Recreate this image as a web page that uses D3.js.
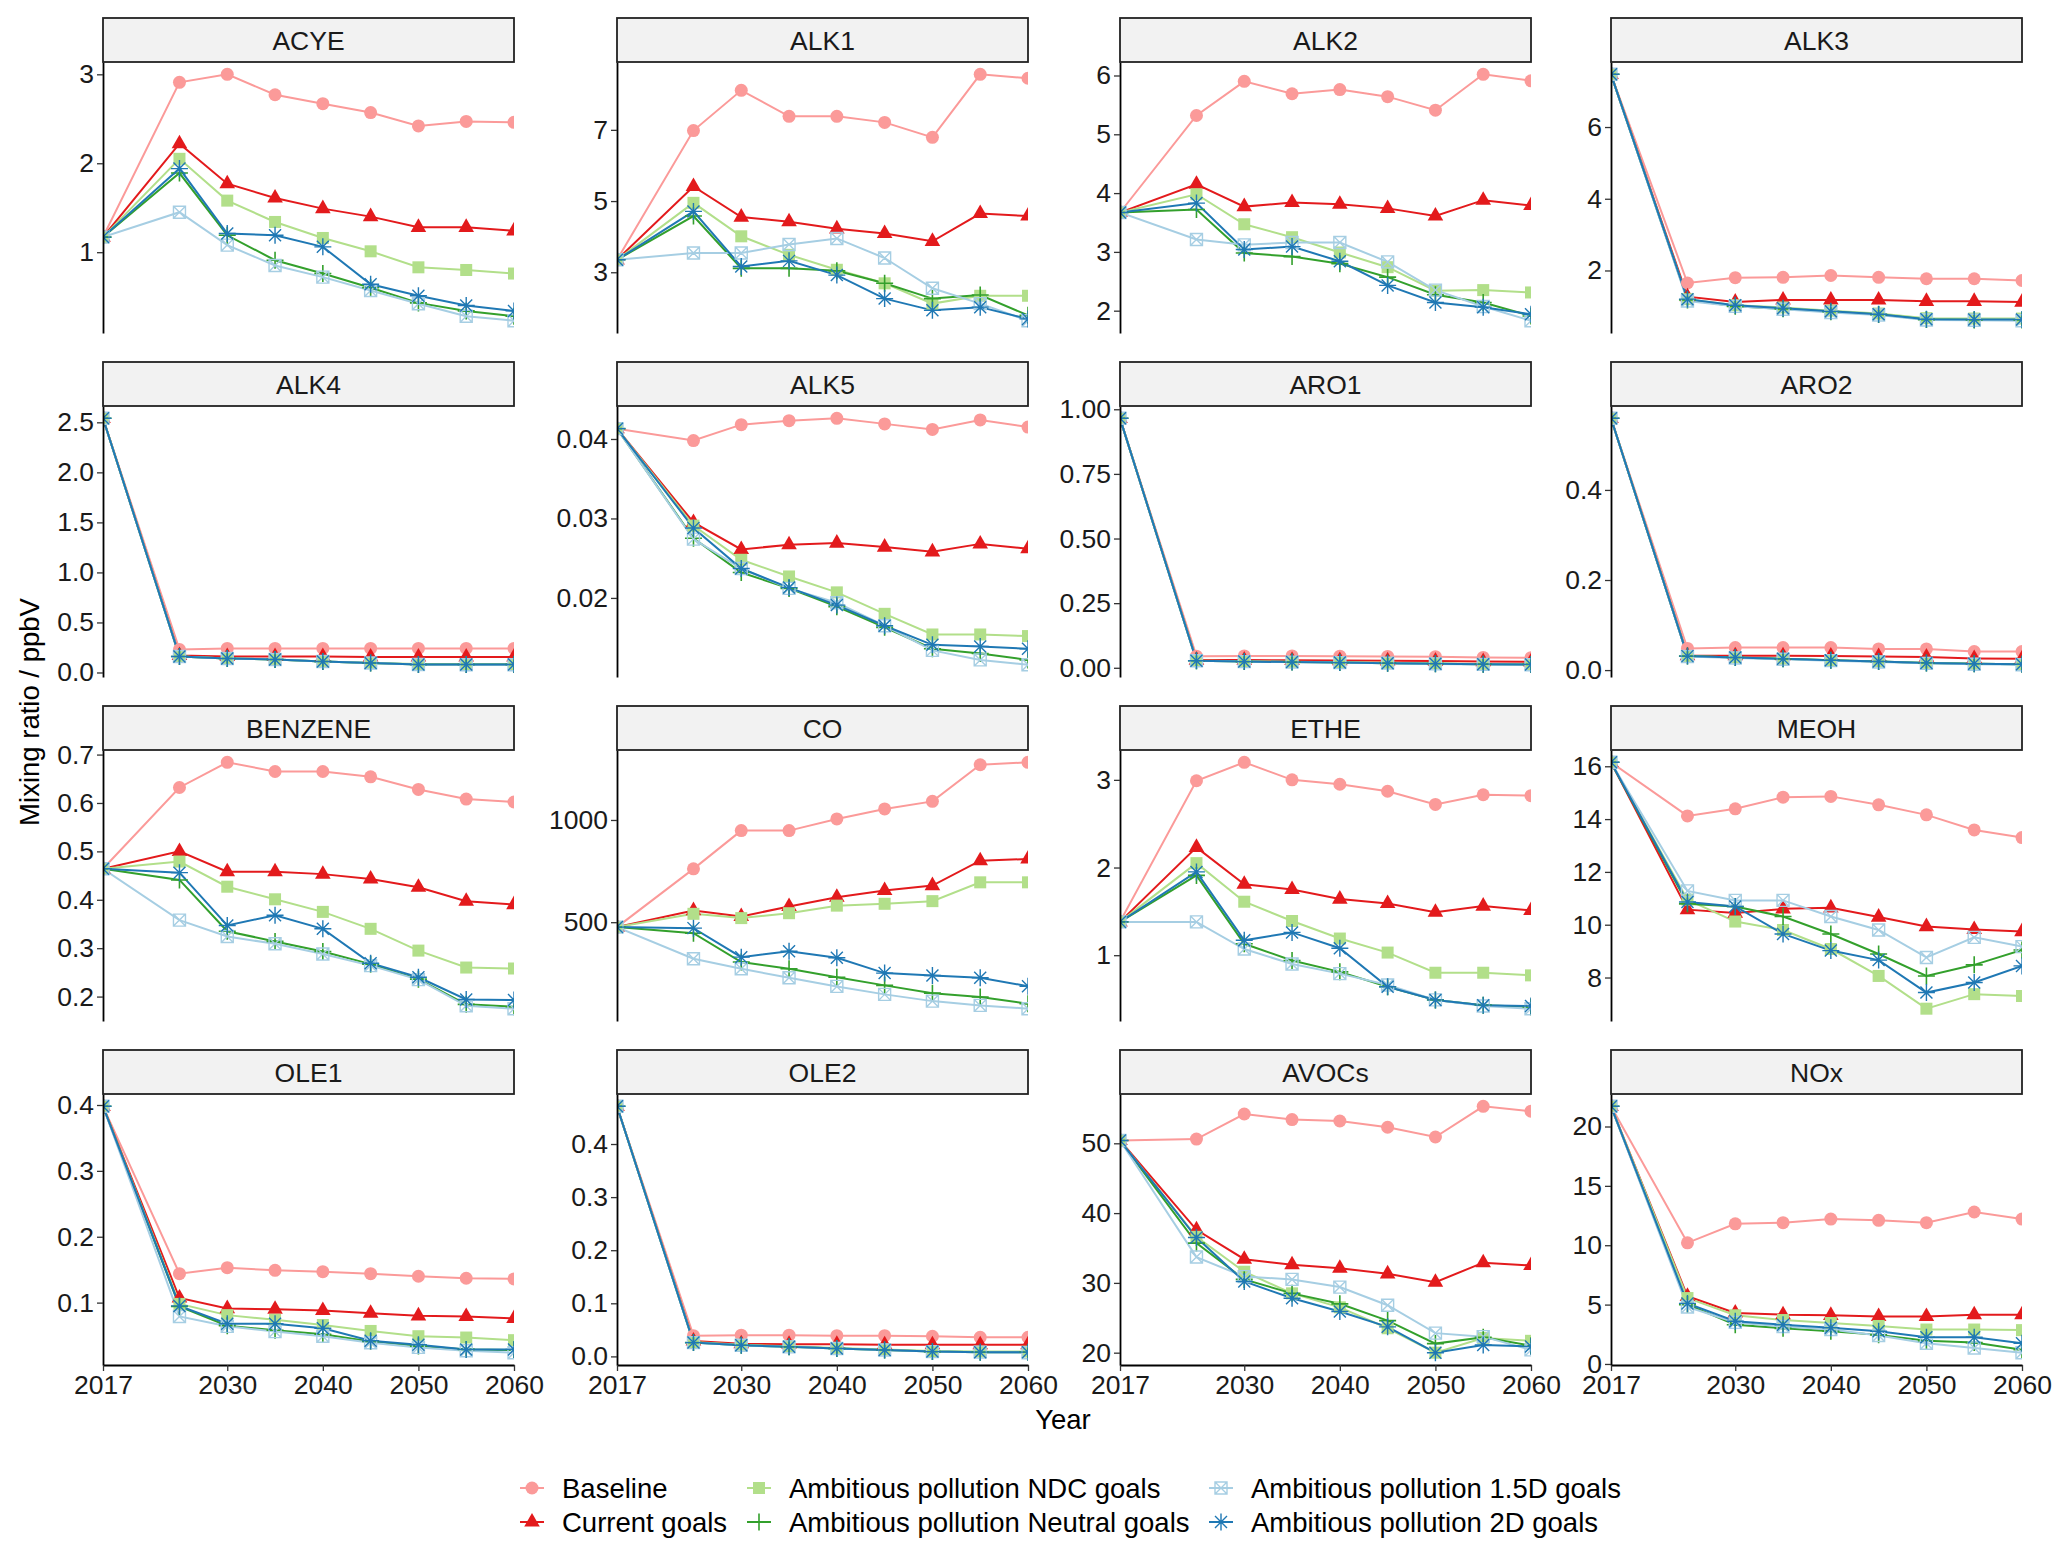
<!DOCTYPE html>
<html lang="en">
<head>
<meta charset="UTF-8">
<title>Mixing ratio by scenario</title>
<script src="https://cdn.jsdelivr.net/npm/d3@7"></script>
<style>
  body { margin: 0; background: #fff; }
  svg text { font-family: "Liberation Sans", Arial, sans-serif; }
</style>
</head>
<body>
<svg width="2067" height="1554"></svg>
<script>
const years = [2017, 2025, 2030, 2035, 2040, 2045, 2050, 2055, 2060];
const xTicks = [2017, 2030, 2040, 2050, 2060];

const scenarios = ["Baseline", "Current goals", "Ambitious pollution NDC goals",
  "Ambitious pollution Neutral goals", "Ambitious pollution 1.5D goals", "Ambitious pollution 2D goals"];
const colors = ["#FB9A99", "#E31A1C", "#B2DF8A", "#33A02C", "#A6CEE3", "#1F78B4"];
const shapes = ["circle", "triangle", "square", "plus", "squarecross", "asterisk"];

const species = ["ACYE", "ALK1", "ALK2", "ALK3", "ALK4", "ALK5", "ARO1", "ARO2",
  "BENZENE", "CO", "ETHE", "MEOH", "OLE1", "OLE2", "AVOCs", "NOx"];

// rows follow the order of `scenarios`
const ACYE = [
  [1.17, 2.91, 3.00, 2.77, 2.67, 2.57, 2.42, 2.47, 2.46],
  [1.17, 2.22, 1.77, 1.61, 1.49, 1.40, 1.28, 1.28, 1.24],
  [1.17, 2.05, 1.58, 1.34, 1.16, 1.01, 0.83, 0.80, 0.76],
  [1.17, 1.89, 1.19, 0.91, 0.76, 0.60, 0.43, 0.34, 0.28],
  [1.17, 1.45, 1.08, 0.85, 0.72, 0.57, 0.42, 0.28, 0.23],
  [1.17, 1.94, 1.21, 1.19, 1.06, 0.64, 0.51, 0.40, 0.34]
];
const ALK1 = [
  [3.35, 6.98, 8.11, 7.38, 7.38, 7.21, 6.79, 8.56, 8.45],
  [3.35, 5.41, 4.55, 4.42, 4.22, 4.09, 3.87, 4.65, 4.58],
  [3.35, 4.95, 4.01, 3.49, 3.07, 2.69, 2.12, 2.34, 2.34],
  [3.35, 4.58, 3.11, 3.11, 3.04, 2.69, 2.26, 2.36, 1.79],
  [3.35, 3.54, 3.54, 3.78, 3.95, 3.40, 2.55, 2.12, 1.64],
  [3.35, 4.71, 3.16, 3.32, 2.92, 2.26, 1.93, 2.02, 1.69]
];
const ALK2 = [
  [3.67, 5.32, 5.90, 5.69, 5.76, 5.64, 5.41, 6.02, 5.91],
  [3.67, 4.15, 3.77, 3.84, 3.81, 3.74, 3.61, 3.88, 3.79],
  [3.67, 3.98, 3.47, 3.25, 2.99, 2.74, 2.34, 2.35, 2.31],
  [3.67, 3.72, 2.98, 2.92, 2.80, 2.57, 2.27, 2.14, 1.91],
  [3.67, 3.21, 3.12, 3.16, 3.16, 2.83, 2.35, 2.07, 1.83],
  [3.67, 3.83, 3.04, 3.09, 2.84, 2.43, 2.14, 2.06, 1.94]
];
const ALK3 = [
  [7.47, 1.65, 1.80, 1.81, 1.86, 1.81, 1.77, 1.77, 1.72],
  [7.47, 1.27, 1.12, 1.18, 1.18, 1.18, 1.14, 1.14, 1.12],
  [7.47, 1.20, 1.03, 0.97, 0.88, 0.80, 0.67, 0.66, 0.66],
  [7.47, 1.18, 1.00, 0.93, 0.85, 0.77, 0.63, 0.62, 0.62],
  [7.47, 1.15, 1.00, 0.92, 0.83, 0.76, 0.62, 0.61, 0.60],
  [7.47, 1.20, 1.03, 0.95, 0.86, 0.78, 0.64, 0.63, 0.63]
];
const ALK4 = [
  [2.54, 0.23, 0.24, 0.24, 0.24, 0.24, 0.24, 0.24, 0.24],
  [2.54, 0.17, 0.16, 0.16, 0.16, 0.155, 0.155, 0.155, 0.155],
  [2.54, 0.16, 0.14, 0.13, 0.11, 0.095, 0.085, 0.085, 0.085],
  [2.54, 0.16, 0.14, 0.13, 0.11, 0.095, 0.08, 0.08, 0.08],
  [2.54, 0.16, 0.14, 0.13, 0.11, 0.095, 0.08, 0.078, 0.078],
  [2.54, 0.16, 0.14, 0.13, 0.11, 0.095, 0.08, 0.08, 0.08]
];
const ALK5 = [
  [0.0413, 0.0398, 0.0418, 0.0423, 0.0426, 0.0419, 0.0412, 0.0424, 0.0415],
  [0.0413, 0.0295, 0.0261, 0.0267, 0.0269, 0.0264, 0.0258, 0.0268, 0.0262],
  [0.0413, 0.0291, 0.0248, 0.0227, 0.0207, 0.0180, 0.0154, 0.0154, 0.0152],
  [0.0413, 0.0275, 0.0232, 0.0212, 0.0189, 0.0163, 0.0136, 0.0130, 0.0122],
  [0.0413, 0.0274, 0.0237, 0.0212, 0.0194, 0.0165, 0.0134, 0.0122, 0.0116],
  [0.0413, 0.0288, 0.0237, 0.0213, 0.0191, 0.0165, 0.0141, 0.0139, 0.0136]
];
const ARO1 = [
  [0.965, 0.045, 0.046, 0.046, 0.045, 0.044, 0.043, 0.040, 0.039],
  [0.965, 0.030, 0.030, 0.029, 0.028, 0.027, 0.026, 0.024, 0.023],
  [0.965, 0.028, 0.025, 0.023, 0.021, 0.019, 0.017, 0.015, 0.014],
  [0.965, 0.027, 0.024, 0.022, 0.020, 0.018, 0.016, 0.014, 0.013],
  [0.965, 0.027, 0.024, 0.022, 0.020, 0.018, 0.015, 0.013, 0.012],
  [0.965, 0.027, 0.024, 0.022, 0.020, 0.018, 0.016, 0.014, 0.013]
];
const ARO2 = [
  [0.559, 0.048, 0.050, 0.050, 0.050, 0.047, 0.047, 0.041, 0.041],
  [0.559, 0.032, 0.032, 0.032, 0.031, 0.030, 0.029, 0.026, 0.025],
  [0.559, 0.031, 0.028, 0.025, 0.022, 0.019, 0.016, 0.014, 0.013],
  [0.559, 0.031, 0.028, 0.025, 0.022, 0.019, 0.016, 0.014, 0.013],
  [0.559, 0.030, 0.027, 0.024, 0.021, 0.018, 0.015, 0.013, 0.012],
  [0.559, 0.031, 0.028, 0.025, 0.022, 0.019, 0.016, 0.014, 0.013]
];
const BENZENE = [
  [0.464, 0.632, 0.684, 0.665, 0.665, 0.654, 0.628, 0.608, 0.602],
  [0.464, 0.500, 0.458, 0.458, 0.453, 0.443, 0.426, 0.397, 0.390],
  [0.464, 0.479, 0.427, 0.401, 0.375, 0.340, 0.295, 0.260, 0.258],
  [0.464, 0.441, 0.335, 0.314, 0.293, 0.267, 0.236, 0.184, 0.179],
  [0.464, 0.358, 0.324, 0.309, 0.288, 0.264, 0.235, 0.181, 0.175],
  [0.464, 0.456, 0.347, 0.368, 0.340, 0.269, 0.240, 0.194, 0.193]
];
const CO = [
  [476, 761, 948, 948, 1005, 1054, 1091, 1270, 1282],
  [476, 557, 528, 577, 622, 655, 679, 801, 809],
  [476, 541, 520, 544, 581, 590, 603, 695, 695],
  [476, 446, 305, 272, 231, 191, 153, 134, 101],
  [476, 321, 272, 228, 186, 147, 114, 93, 77],
  [476, 471, 329, 358, 326, 251, 239, 228, 187]
];
const ETHE = [
  [1.38, 2.99, 3.20, 3.00, 2.95, 2.87, 2.72, 2.83, 2.82],
  [1.38, 2.23, 1.81, 1.75, 1.64, 1.59, 1.49, 1.56, 1.51],
  [1.38, 2.05, 1.61, 1.39, 1.19, 1.03, 0.80, 0.80, 0.77],
  [1.38, 1.91, 1.13, 0.94, 0.81, 0.64, 0.49, 0.43, 0.41],
  [1.38, 1.38, 1.07, 0.90, 0.79, 0.66, 0.49, 0.42, 0.39],
  [1.38, 1.95, 1.17, 1.26, 1.08, 0.64, 0.49, 0.43, 0.42]
];
const MEOH = [
  [16.15, 14.12, 14.39, 14.83, 14.86, 14.54, 14.16, 13.59, 13.30],
  [16.15, 10.57, 10.44, 10.60, 10.64, 10.29, 9.93, 9.82, 9.74],
  [16.15, 10.95, 10.12, 9.80, 9.08, 8.06, 6.82, 7.37, 7.30],
  [16.15, 10.79, 10.69, 10.31, 9.65, 8.89, 8.06, 8.48, 9.04],
  [16.15, 11.28, 10.92, 10.92, 10.31, 9.80, 8.76, 9.52, 9.17],
  [16.15, 10.86, 10.69, 9.65, 9.02, 8.66, 7.43, 7.81, 8.44]
];
const OLE1 = [
  [0.398, 0.144, 0.153, 0.149, 0.147, 0.144, 0.140, 0.137, 0.136],
  [0.398, 0.107, 0.091, 0.090, 0.088, 0.084, 0.080, 0.079, 0.076],
  [0.398, 0.098, 0.081, 0.074, 0.066, 0.057, 0.049, 0.047, 0.043],
  [0.398, 0.094, 0.065, 0.058, 0.052, 0.041, 0.034, 0.029, 0.028],
  [0.398, 0.079, 0.064, 0.056, 0.049, 0.039, 0.032, 0.027, 0.024],
  [0.398, 0.095, 0.068, 0.068, 0.061, 0.042, 0.036, 0.029, 0.029]
];
const OLE2 = [
  [0.471, 0.039, 0.040, 0.040, 0.039, 0.039, 0.038, 0.036, 0.036],
  [0.471, 0.029, 0.024, 0.023, 0.023, 0.022, 0.022, 0.022, 0.022],
  [0.471, 0.027, 0.022, 0.019, 0.016, 0.013, 0.010, 0.009, 0.009],
  [0.471, 0.026, 0.021, 0.018, 0.015, 0.012, 0.009, 0.008, 0.008],
  [0.471, 0.026, 0.021, 0.018, 0.015, 0.012, 0.009, 0.008, 0.007],
  [0.471, 0.026, 0.021, 0.018, 0.015, 0.012, 0.009, 0.008, 0.008]
];
const AVOCs = [
  [50.4, 50.6, 54.2, 53.4, 53.2, 52.3, 50.9, 55.3, 54.6],
  [50.4, 37.6, 33.4, 32.6, 32.1, 31.3, 30.1, 32.9, 32.5],
  [50.4, 36.6, 31.6, 28.5, 26.5, 23.5, 20.0, 22.1, 21.7],
  [50.4, 35.7, 30.5, 28.5, 27.0, 24.6, 21.3, 22.2, 21.0],
  [50.4, 33.7, 30.9, 30.5, 29.4, 26.8, 22.8, 22.3, 20.4],
  [50.4, 36.5, 30.2, 27.8, 25.9, 23.7, 20.0, 21.1, 20.9]
];
const NOx = [
  [21.7, 10.2, 11.8, 11.9, 12.2, 12.1, 11.9, 12.8, 12.2],
  [21.7, 5.7, 4.3, 4.15, 4.1, 4.0, 4.0, 4.15, 4.15],
  [21.7, 5.55, 4.1, 3.7, 3.45, 3.2, 2.9, 2.9, 2.85],
  [21.7, 5.0, 3.3, 3.0, 2.75, 2.45, 1.95, 1.8, 1.2],
  [21.7, 4.8, 3.5, 3.15, 2.9, 2.4, 1.75, 1.35, 0.95],
  [21.7, 5.1, 3.6, 3.3, 3.05, 2.75, 2.25, 2.25, 1.75]
];

// y tick labels, same order as `species`
const yTickLabels = [
  ["1", "2", "3"], ["3", "5", "7"], ["2", "3", "4", "5", "6"], ["2", "4", "6"],
  ["0.0", "0.5", "1.0", "1.5", "2.0", "2.5"], ["0.02", "0.03", "0.04"],
  ["0.00", "0.25", "0.50", "0.75", "1.00"], ["0.0", "0.2", "0.4"],
  ["0.2", "0.3", "0.4", "0.5", "0.6", "0.7"], ["500", "1000"], ["1", "2", "3"],
  ["8", "10", "12", "14", "16"], ["0.1", "0.2", "0.3", "0.4"],
  ["0.0", "0.1", "0.2", "0.3", "0.4"], ["20", "30", "40", "50"], ["0", "5", "10", "15", "20"]
];

const values = {ACYE, ALK1, ALK2, ALK3, ALK4, ALK5, ARO1, ARO2, BENZENE, CO, ETHE, MEOH, OLE1, OLE2, AVOCs, NOx};

const svg = d3.select("svg");

// layout
const colLeft = [103, 617, 1120, 1611];
const panelW = 411, panelH = 271, stripH = 44;
const rowTop = [18, 362, 706, 1050];
const tickFont = 26.5;

const x = d3.scaleLinear().domain([2017, 2060]).range([0, panelW]);

function drawMarker(g, shape, color) {
  if (shape === "circle") {
    g.append("circle").attr("r", 6.5).attr("fill", color);
  } else if (shape === "triangle") {
    g.append("path").attr("d", "M0,-9L7.8,4.6L-7.8,4.6Z").attr("fill", color);
  } else if (shape === "square") {
    g.append("rect").attr("x", -6).attr("y", -6).attr("width", 12).attr("height", 12).attr("fill", color);
  } else if (shape === "plus") {
    g.append("path").attr("d", "M-8.5,0H8.5M0,-8.5V8.5").attr("stroke", color).attr("stroke-width", 1.6).attr("fill", "none");
  } else if (shape === "squarecross") {
    g.append("path").attr("d", "M-6,-6H6V6H-6ZM-6,-6L6,6M6,-6L-6,6")
      .attr("stroke", color).attr("stroke-width", 1.4).attr("fill", "none");
  } else if (shape === "asterisk") {
    g.append("path").attr("d", "M-8.5,0H8.5M0,-8.5V8.5M-6,-6L6,6M6,-6L-6,6")
      .attr("stroke", color).attr("stroke-width", 1.4).attr("fill", "none");
  }
}

species.forEach((name, i) => {
  const r = Math.floor(i / 4), c = i % 4;
  const left = colLeft[c], stripTop = rowTop[r], top = stripTop + stripH;
  const data = values[name];

  const [lo, hi] = d3.extent(data.flat());
  const pad = (hi - lo) * 0.05;
  const y = d3.scaleLinear().domain([lo - pad, hi + pad]).range([panelH, 0]);

  const g = svg.append("g").attr("transform", `translate(${left},${top})`);

  g.append("clipPath").attr("id", "clip" + i)
    .append("rect").attr("width", panelW).attr("height", panelH);

  const plot = g.append("g").attr("clip-path", `url(#clip${i})`);
  const line = d3.line().x((d, j) => x(years[j])).y(d => y(d));

  data.forEach((series, s) => {
    plot.append("path").datum(series)
      .attr("d", line)
      .attr("fill", "none")
      .attr("stroke", colors[s])
      .attr("stroke-width", 2);
  });
  data.forEach((series, s) => {
    series.forEach((v, j) => {
      const m = plot.append("g").attr("transform", `translate(${x(years[j])},${y(v)})`);
      drawMarker(m, shapes[s], colors[s]);
    });
  });

  // y axis
  const ticks = yTickLabels[i];
  const yAxis = g.append("g")
    .call(d3.axisLeft(y).tickValues(ticks.map(Number)).tickFormat((d, k) => ticks[k])
      .tickSize(6).tickPadding(3).tickSizeOuter(0));
  yAxis.select(".domain").attr("stroke", "#000").attr("stroke-width", 1.8);
  yAxis.selectAll(".tick line").attr("stroke", "#333").attr("stroke-width", 1.3);
  yAxis.selectAll("text").attr("font-size", tickFont).attr("fill", "#1a1a1a");

  // x axis only on the bottom row
  if (r === 3) {
    const xAxis = g.append("g").attr("transform", `translate(0,${panelH})`)
      .call(d3.axisBottom(x).tickValues(xTicks).tickFormat(d3.format("d"))
        .tickSize(6).tickPadding(4).tickSizeOuter(0));
    xAxis.select(".domain").attr("stroke", "#000").attr("stroke-width", 1.8);
    xAxis.selectAll(".tick line").attr("stroke", "#333").attr("stroke-width", 1.3);
    xAxis.selectAll("text").attr("font-size", tickFont).attr("fill", "#1a1a1a");
  }

  // strip
  svg.append("rect")
    .attr("x", left).attr("y", stripTop)
    .attr("width", panelW).attr("height", stripH)
    .attr("fill", "#F2F2F2").attr("stroke", "#222").attr("stroke-width", 1.8);
  svg.append("text")
    .attr("x", left + panelW / 2).attr("y", stripTop + stripH / 2)
    .attr("dy", "0.36em").attr("text-anchor", "middle")
    .attr("font-size", 26.5).attr("fill", "#1a1a1a")
    .text(name);
});

// axis titles
svg.append("text")
  .attr("transform", "translate(29,712) rotate(-90)")
  .attr("text-anchor", "middle").attr("dy", "0.36em")
  .attr("font-size", 27.5).attr("fill", "#000")
  .text("Mixing ratio / ppbV");

svg.append("text")
  .attr("x", 1063).attr("y", 1419).attr("dy", "0.36em")
  .attr("text-anchor", "middle").attr("font-size", 27.5).attr("fill", "#000")
  .text("Year");

// legend, filled column by column
const legendCols = [532, 759, 1221];
const legendRows = [1488, 1522];
scenarios.forEach((name, s) => {
  const cx = legendCols[Math.floor(s / 2)], cy = legendRows[s % 2];
  const key = svg.append("g").attr("transform", `translate(${cx},${cy})`);
  key.append("line").attr("x1", -12).attr("x2", 12)
    .attr("stroke", colors[s]).attr("stroke-width", 2);
  drawMarker(key, shapes[s], colors[s]);
  svg.append("text")
    .attr("x", cx + 30).attr("y", cy).attr("dy", "0.36em")
    .attr("font-size", 27.5).attr("fill", "#000")
    .text(name);
});
</script>
</body>
</html>
